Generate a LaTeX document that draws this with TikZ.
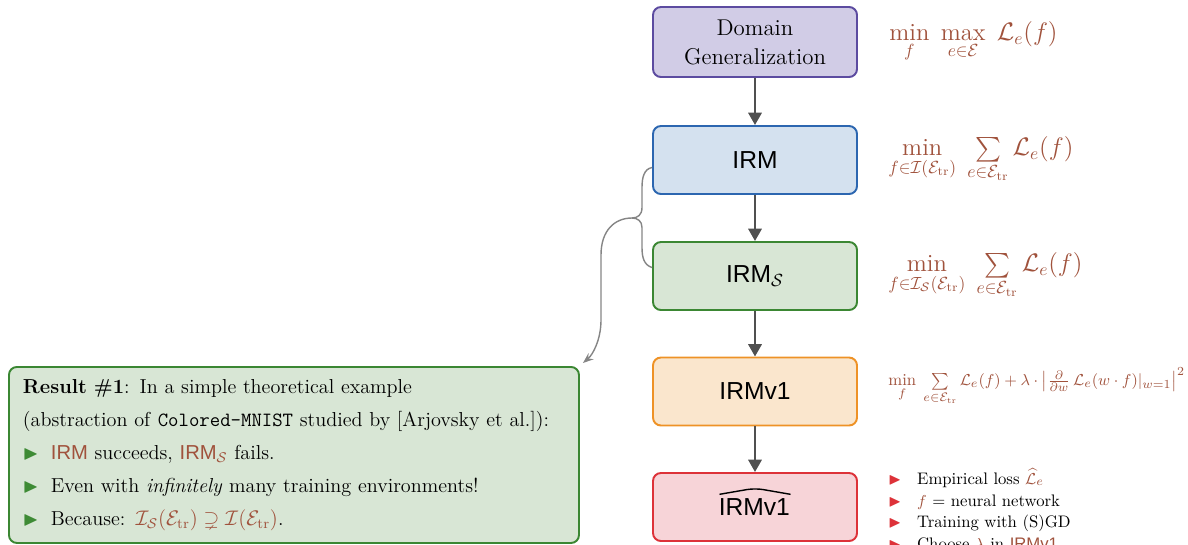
\documentclass[tikz,border=0pt]{standalone}
\usepackage{amsmath,amssymb}
\usepackage{fontspec}
\setsansfont{Liberation Sans}
\usetikzlibrary{arrows.meta}

\definecolor{dgfill}{HTML}{D1CCE6}
\definecolor{dgline}{HTML}{5C4BA0}
\definecolor{irmfill}{HTML}{D4E1EF}
\definecolor{irmline}{HTML}{2C66B0}
\definecolor{irmsfill}{HTML}{D8E6D5}
\definecolor{irmsline}{HTML}{3B8733}
\definecolor{vfill}{HTML}{FAE6CD}
\definecolor{vline}{HTML}{EE9226}
\definecolor{hatfill}{HTML}{F7D4D8}
\definecolor{hatline}{HTML}{DD3239}
\definecolor{mathbrown}{HTML}{A0523C}
\definecolor{arrowgray}{HTML}{505050}
\definecolor{linkgray}{HTML}{858585}
\definecolor{bulletred}{HTML}{DD3239}
\definecolor{bulletgreen}{HTML}{3E8B35}

\newcommand{\tri}[1]{\textcolor{#1}{$\blacktriangleright$}}
\newsavebox{\hatbox}
\newlength{\hatwd}
\newcommand{\hatsf}[1]{%
  \sbox{\hatbox}{#1}\setlength{\hatwd}{\wd\hatbox}%
  \ooalign{\usebox{\hatbox}\cr
    \raisebox{\dimexpr\ht\hatbox+2pt\relax}{\tikz\draw[line width=0.8pt] (0,0) -- (0.5\hatwd,3.5pt) -- (\hatwd,0);}\cr}}

\begin{document}
\begin{tikzpicture}[
    stage/.style={rectangle, rounded corners=4.5pt, draw, line width=1.1pt, minimum width=4.08cm, minimum height=1.36cm, align=center, font=\fontsize{14}{16}\selectfont\sffamily},
    flow/.style={-{Triangle[length=7pt,width=7.5pt]}, line width=1.5pt, draw=arrowgray},
    link/.style={line width=0.8pt, draw=linkgray},
    formula/.style={anchor=west, inner sep=0pt, text=mathbrown, font=\fontsize{14}{16}\selectfont},
    resultbox/.style={rectangle, rounded corners=4.5pt, draw=irmsline, fill=irmsfill, line width=1.1pt, text width=10.84cm, inner xsep=0.28cm, minimum height=3.52cm, align=left, font=\fontsize{11.5}{18.7}\selectfont}
  ]
    \useasboundingbox (0,0) rectangle (23.76,-10.88);

    % the chain of objectives
    \node[stage, fill=dgfill, draw=dgline, minimum height=1.4cm, font=\fontsize{13}{16.5}\selectfont\rmfamily] (dg) at (15.1,-0.84) {Domain\\Generalization};
    \node[stage, fill=irmfill, draw=irmline] (irm) at (15.1,-3.2) {IRM};
    \node[stage, fill=irmsfill, draw=irmsline] (irms) at (15.1,-5.52) {IRM$_{\mathcal{S}}$};
    \node[stage, fill=vfill, draw=vline] (irmv) at (15.1,-7.83) {IRMv1};
    \node[stage, fill=hatfill, draw=hatline] (irmhat) at (15.1,-10.14) {\hatsf{IRMv1}};
    \draw[flow] (dg.south) -- (irm.north);
    \draw[flow] (irm.south) -- (irms.north);
    \draw[flow] (irms.south) -- (irmv.north);
    \draw[flow] (irmv.south) -- (irmhat.north);

    % objectives
    \node[formula] (f-dg) at (17.78,-0.84) {$\min\limits_{f}\;\max\limits_{e\in\mathcal{E}}\;\mathcal{L}_e(f)$};
    \node[formula] (f-irm) at (17.76,-3.2) {$\min\limits_{f\in\mathcal{I}(\mathcal{E}_{\mathrm{tr}})}\;\sum\limits_{e\in\mathcal{E}_{\mathrm{tr}}}\mathcal{L}_e(f)$};
    \node[formula] (f-irms) at (17.76,-5.52) {$\min\limits_{f\in\mathcal{I}_{\mathcal{S}}(\mathcal{E}_{\mathrm{tr}})}\;\sum\limits_{e\in\mathcal{E}_{\mathrm{tr}}}\mathcal{L}_e(f)$};
    \node[formula, font=\fontsize{9.5}{11}\selectfont] (f-irmv) at (17.76,-7.72) {$\min\limits_{f}\;\sum\limits_{e\in\mathcal{E}_{\mathrm{tr}}}\mathcal{L}_e(f)+\lambda\cdot\left|\tfrac{\partial}{\partial w}\,\mathcal{L}_e(w\cdot f)|_{w=1}\right|^2$};
    \node[anchor=north west, inner sep=0pt, align=left, font=\fontsize{9.5}{12.5}\selectfont] (notes) at (17.76,-9.36) {%
      \makebox[16.4pt][l]{\tri{bulletred}}Empirical loss \textcolor{mathbrown}{$\widehat{\mathcal{L}}_e$}\\
      \makebox[16.4pt][l]{\tri{bulletred}}\textcolor{mathbrown}{$f$} = neural network\\
      \makebox[16.4pt][l]{\tri{bulletred}}Training with (S)GD\\
      \makebox[16.4pt][l]{\tri{bulletred}}Choose \textcolor{mathbrown}{$\lambda$} in \textcolor{mathbrown}{\textsf{IRMv1}}};

    % result
    \node[resultbox, anchor=north west] (result) at (0.16,-7.32) {%
      \textbf{Result \#1}: In a simple theoretical example\\
      (abstraction of \texttt{Colored-MNIST} studied by [Arjovsky et al.]):\\
      \makebox[15.9pt][l]{\tri{bulletgreen}}\textcolor{mathbrown}{\textsf{IRM}} succeeds, \textcolor{mathbrown}{\textsf{IRM}$_{\mathcal{S}}$} fails.\\
      \makebox[15.9pt][l]{\tri{bulletgreen}}Even with \emph{infinitely} many training environments!\\
      \makebox[15.9pt][l]{\tri{bulletgreen}}Because: \textcolor{mathbrown}{$\mathcal{I}_{\mathcal{S}}(\mathcal{E}_{\mathrm{tr}})\supsetneq\mathcal{I}(\mathcal{E}_{\mathrm{tr}})$}.};

    % brace from IRM and IRM_S down to the result
    \coordinate (fork) at (12.64,-4.36);
    \draw[link] ([yshift=-0.15cm]irm.west) .. controls (12.88,-3.38) and (12.84,-3.55) .. (12.84,-3.75) -- (12.84,-4.15) .. controls (12.84,-4.3) and (12.75,-4.36) .. (fork);
    \draw[link] ([yshift=0.17cm]irms.west) .. controls (12.88,-5.3) and (12.84,-5.15) .. (12.84,-4.95) -- (12.84,-4.55) .. controls (12.84,-4.42) and (12.75,-4.36) .. (fork);
    \draw[link, -{Stealth[length=6pt,width=4.5pt]}] (fork) .. controls (12.3,-4.36) and (12.02,-4.6) .. (12.02,-5.1) -- (12.02,-6.4) .. controls (12.02,-6.8) and (11.85,-7.1) .. ([shift={(0.06,0.06)}]result.north east);
  \end{tikzpicture}
\end{document}
